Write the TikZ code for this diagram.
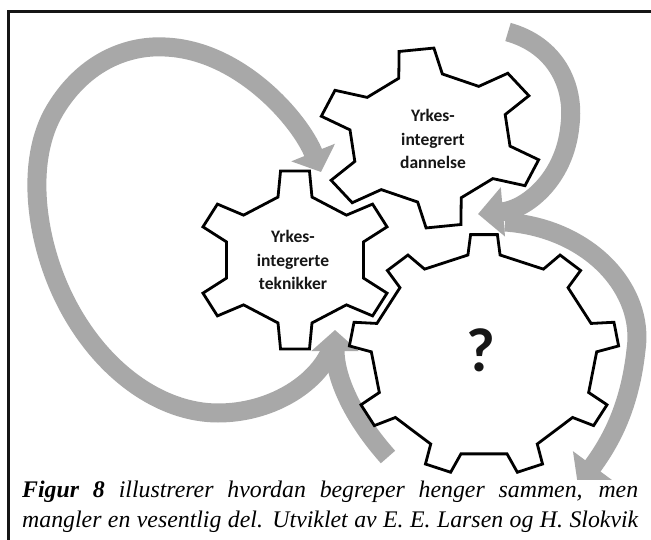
\documentclass[tikz,border=0pt]{standalone}
\usepackage{fontspec}
\setmainfont{Liberation Serif}
\newfontfamily\gearfont{Carlito}
\usetikzlibrary{arrows.meta}
\definecolor{bandgray}{RGB}{168,168,168}
\definecolor{inkdark}{RGB}{22,22,22}

% Gear outline: #1 path options, #2 centre, #3 = rx/ry/teeth/first tooth angle/tip half angle/root half angle/root ratio
\newcommand\gearpath[3]{%
  \foreach \rx/\ry/\nt/\ao/\ht/\hb/\kr in {#3}{%
    \path[#1, shift={(#2)}]
      ({\rx*\kr*cos(\ao-\hb)},{-\ry*\kr*sin(\ao-\hb)})
      \foreach \j in {1,...,\nt}{
        -- ({\rx*\kr*cos(\ao+(\j-1)*360/\nt-\hb)},{-\ry*\kr*sin(\ao+(\j-1)*360/\nt-\hb)})
        -- ({\rx*cos(\ao+(\j-1)*360/\nt-\ht)},{-\ry*sin(\ao+(\j-1)*360/\nt-\ht)})
        -- ({\rx*cos(\ao+(\j-1)*360/\nt+\ht)},{-\ry*sin(\ao+(\j-1)*360/\nt+\ht)})
        -- ({\rx*\kr*cos(\ao+(\j-1)*360/\nt+\hb)},{-\ry*\kr*sin(\ao+(\j-1)*360/\nt+\hb)})
      } -- cycle;
  }}

\begin{document}
\begin{tikzpicture}[x=1pt,y=-1pt,
  gearfill/.style={fill=white},
  gearline/.style={draw=black,line width=2.8pt,line join=miter,miter limit=3},
  band/.style={draw=bandgray,line width=19pt,
    -{Triangle[width=48pt,length=25pt]}},
  shortband/.style={draw=bandgray,line width=19pt,
    -{Triangle[width=46pt,length=21pt]}},
  gearlabel/.style={font=\gearfont\bfseries\fontsize{17.5}{23.5}\selectfont,
    align=center,text=inkdark,inner sep=0pt},
  caption/.style={anchor=base west,inner sep=0pt,
    font=\fontsize{23.8}{30}\selectfont\itshape}]
\useasboundingbox (0,0) rectangle (651,540);
\fill[white] (0,0) rectangle (651,540);

% frame
\draw[line width=3pt,draw=inkdark] (8,540) -- (8,12) -- (651,12);

% arrow end points
\coordinate (a1s) at (508,32);
\coordinate (a1e) at (478,214);
\coordinate (a2s) at (505,222);
\coordinate (a2e) at (578,486);
\coordinate (a3s) at (388,457);
\coordinate (a3e) at (335,330);
\coordinate (a4s) at (330,352);
\coordinate (a4e) at (321,172);

\begin{scope}
\clip (10,14) rectangle (651,479);
% loop round the left, ending above the left gear
\draw[shortband] (a4s) .. controls (315,385) and (270,413) .. (218,413)
  .. controls (160,413) and (100,370) .. (65,300)
  .. controls (35,240) and (25,160) .. (55,110)
  .. controls (85,60) and (130,45) .. (165,47)
  .. controls (240,50) and (300,120) .. (a4e);
% rising arrow below the left gear
\draw[shortband] (a3s) .. controls (355,420) and (335,380) .. (a3e);
% arrow round the right of the large gear
\draw[band] (a2s) .. controls (590,228) and (645,290) .. (636,350)
  .. controls (630,405) and (612,440) .. (a2e);
% arrow round the right of the upper gear
\draw[band] (a1s) .. controls (555,45) and (575,85) .. (570,125)
  .. controls (565,180) and (525,210) .. (a1e);

% gears: fills first, then outlines
\gearpath{gearfill}{430,138}{112/90/6/97/9/15.8/0.72}
\gearpath{gearfill}{295,260}{99/90/6/90/8.4/13.8/0.72}
\gearpath{gearfill}{484,355}{135/121/9/90/5.7/8.2/0.835}
\gearpath{gearline}{430,138}{112/90/6/97/9/15.8/0.72}
\gearpath{gearline}{295,260}{99/90/6/90/8.4/13.8/0.72}
\gearpath{gearline}{484,355}{135/121/9/90/5.7/8.2/0.835}
\end{scope}

\node[gearlabel] (dannelse) at (433,139) {Yrkes-\\integrert\\dannelse};
\node[gearlabel] (teknikker) at (293,260) {Yrkes-\\integrerte\\teknikker};
\node[gearlabel,font=\gearfont\bfseries\fontsize{62}{62}\selectfont] (unknown) at (481,350) {?};

\node[caption] (cap1) at (22,497)
  {\hbox to 616pt{\textbf{Figur 8} illustrerer hvordan begreper henger sammen, men}};
\node[caption] (cap2) at (22,527)
  {\hbox to 616pt{mangler en vesentlig del. Utviklet av E. E. Larsen og H. Slokvik}};
\end{tikzpicture}
\end{document}
